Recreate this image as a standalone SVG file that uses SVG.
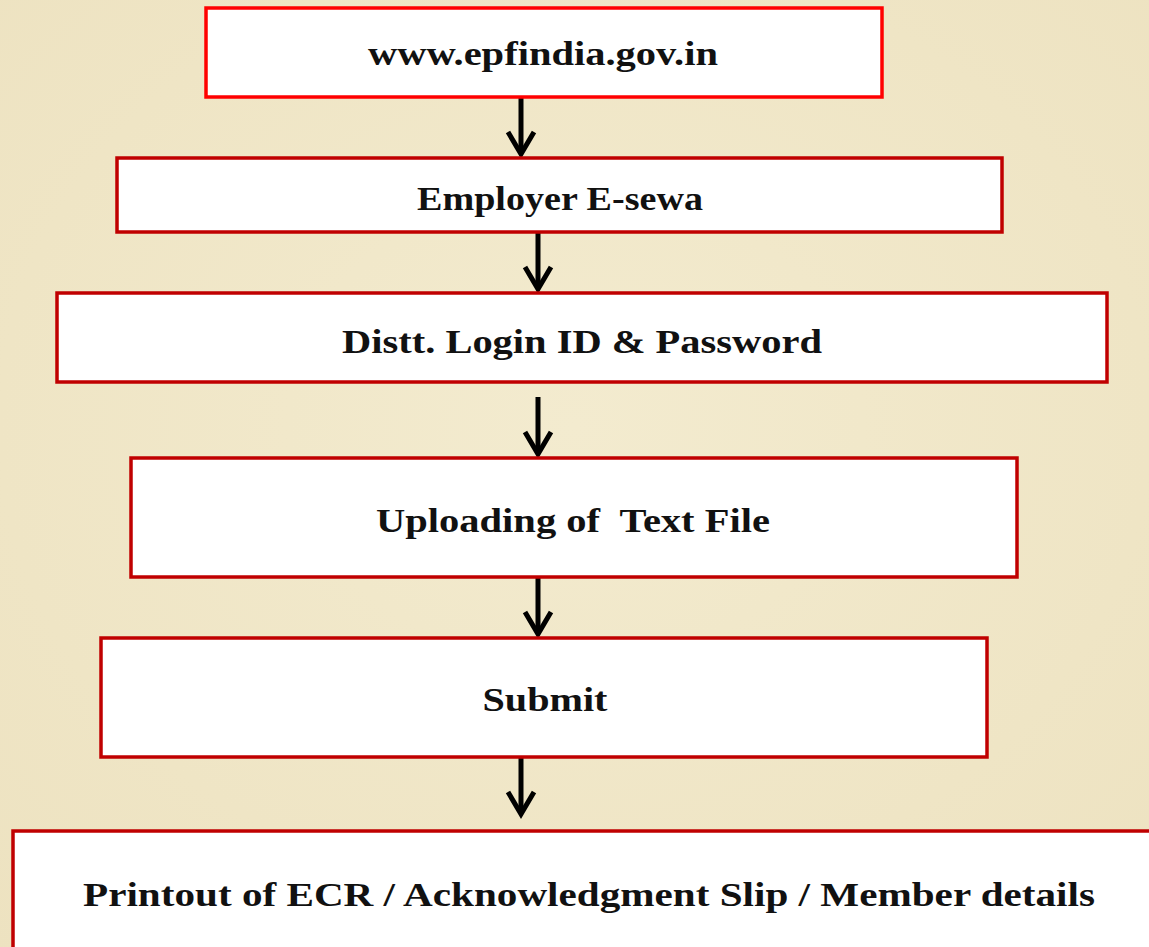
<svg xmlns="http://www.w3.org/2000/svg" width="1149" height="947" viewBox="0 0 1149 947">
<style>
.box{fill:#ffffff;stroke:#c00000;stroke-width:3.5}
.box1{stroke:#ff0000}
.lbl{font-family:"Liberation Serif","DejaVu Serif",serif;font-weight:bold;font-size:34px;fill:#111111;text-anchor:middle}
.conn{fill:none;stroke:#000000;stroke-width:5}
</style>
<defs>
<marker id="arr" markerUnits="userSpaceOnUse" markerWidth="32" markerHeight="32" refX="25" refY="15" orient="auto" viewBox="0 0 32 30">
<path d="M3 2 L25 15 L3 28" fill="none" stroke="#000" stroke-width="5" stroke-linecap="butt"/>
</marker>
<radialGradient id="bg" cx="50%" cy="45%" r="75%">
<stop offset="0" stop-color="#f3ebcf"/>
<stop offset="1" stop-color="#ede2c0"/>
</radialGradient>
</defs>
<rect x="0" y="0" width="1149" height="947" fill="url(#bg)"/>
<g id="connectors">
<path class="conn" d="M521 97 V154" marker-end="url(#arr)"/>
<path class="conn" d="M538 232 V289" marker-end="url(#arr)"/>
<path class="conn" d="M538 397 V454" marker-end="url(#arr)"/>
<path class="conn" d="M538 577 V634" marker-end="url(#arr)"/>
<path class="conn" d="M521 757 V814" marker-end="url(#arr)"/>
</g>
<g id="n1">
<rect class="box box1" x="206" y="8" width="676" height="89"/>
<text class="lbl" x="543" y="65" textLength="350" lengthAdjust="spacingAndGlyphs">www.epfindia.gov.in</text>
</g>
<g id="n2">
<rect class="box" x="117" y="158" width="885" height="74"/>
<text class="lbl" x="560" y="210" textLength="286" lengthAdjust="spacingAndGlyphs">Employer E-sewa</text>
</g>
<g id="n3">
<rect class="box" x="57" y="293" width="1050" height="89"/>
<text class="lbl" x="582" y="353" textLength="480" lengthAdjust="spacingAndGlyphs">Distt. Login ID &amp; Password</text>
</g>
<g id="n4">
<rect class="box" x="131" y="458" width="886" height="119"/>
<text class="lbl" x="573" y="532" textLength="394" lengthAdjust="spacingAndGlyphs" xml:space="preserve">Uploading of  Text File</text>
</g>
<g id="n5">
<rect class="box" x="101" y="638" width="886" height="119"/>
<text class="lbl" x="545" y="711" textLength="125" lengthAdjust="spacingAndGlyphs">Submit</text>
</g>
<g id="n6">
<rect class="box" x="13" y="831" width="1150" height="130"/>
<text class="lbl" x="589" y="906" textLength="1012" lengthAdjust="spacingAndGlyphs">Printout of ECR / Acknowledgment Slip / Member details</text>
</g>
</svg>
